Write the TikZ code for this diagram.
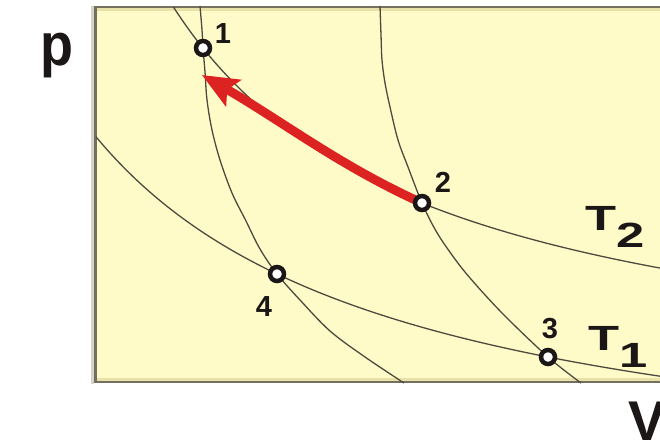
\documentclass[tikz,border=0pt]{standalone}
\usepackage{fontspec}
\setmainfont{Liberation Sans}
\usepackage{graphicx}
\usetikzlibrary{arrows.meta}
\definecolor{paper}{HTML}{FFFBC8}
\definecolor{khaki}{HTML}{E9E2A8}
\definecolor{frame}{HTML}{747060}
\definecolor{shadowgrey}{HTML}{D6D3CB}
\definecolor{curvegrey}{HTML}{4E4A40}
\definecolor{arrowred}{HTML}{DD2222}
\definecolor{ink}{HTML}{1A1716}
\tikzset{
  curve/.style={draw=curvegrey, line width=1.3pt},
  statept/.style={circle, draw=ink, fill=white, line width=4.5pt, minimum size=14pt, inner sep=0pt},
  ptlabel/.style={anchor=base, inner sep=0pt, text=ink, font=\fontsize{29}{30}\selectfont\bfseries},
  templabel/.style={anchor=base west, inner sep=0pt, text=ink, font=\fontsize{35}{36}\selectfont\bfseries},
  axislabel/.style={anchor=base west, inner sep=0pt, text=ink, font=\fontsize{60}{60}\selectfont\bfseries},
  processarrow/.style={draw=arrowred, line width=9pt, -{Stealth[length=36pt, width=30pt, inset=7pt]}}
}
\begin{document}
\begin{tikzpicture}[x=1pt, y=-1pt]
\useasboundingbox (0,0) rectangle (660,442);
\clip (0,0) rectangle (660,442);
\fill[white] (0,0) rectangle (660,442);
% frame
\fill[shadowgrey] (91,6) rectangle (94,384);
\fill[paper] (95,7) rectangle (662,382);
\fill[khaki] (97,8) rectangle (662,11);
\fill[khaki] (97,378) rectangle (662,381);
\draw[frame, line width=2pt] (662,7) -- (95.5,7);
\draw[frame, line width=3pt] (95.5,6) -- (95.5,383);
\draw[frame, line width=2.5pt] (94,382) -- (662,382);
% state points
\coordinate (p1) at (203,48);
\coordinate (p2) at (422,203);
\coordinate (p3) at (548,357);
\coordinate (p4) at (277,274);
\coordinate (tip) at (202,75);
% isotherms
\draw[curve] plot[domain=173.4:662, samples=120] (\x, {406.2-1028/((\x+84.1)/100)});
\draw[curve] plot[domain=96:662, samples=120] (\x, {506.3-1132.52/((\x+210.5)/100)});
% adiabats
\draw[curve] plot[smooth, tension=0.55] coordinates {(200,6) (202,30) (p1) (205,72) (207,100) (212,130) (220,160) (232,193) (246,221) (260,249) (p4) (300,300) (330,331) (365,357) (404,383)};
\draw[curve] plot[smooth, tension=0.55] coordinates {(380,6) (381,35) (382,60) (385,83) (390,107) (398,140) (408,167) (p2) (436,231) (452,255) (470,278) (503,314) (p3) (581,383)};
% process arrow 2 -> 1
\draw[processarrow] (p2) .. controls (340,166) and (282,121) .. (tip);
% nodes
\node[statept] (n1) at (p1) {};
\node[statept] (n2) at (p2) {};
\node[statept] (n3) at (p3) {};
\node[statept] (n4) at (p4) {};
\node[ptlabel] (l1) at (223,43) {1};
\node[ptlabel] (l2) at (443,192) {2};
\node[ptlabel] (l3) at (550,338) {3};
\node[ptlabel] (l4) at (264,316) {4};
\node[templabel] (t2) at (585,230) {\scalebox{1.45}[1]{T\raisebox{-17pt}{2}}};
\node[templabel] (t1) at (588,350) {\scalebox{1.45}[1]{T\raisebox{-17pt}{1}}};
\node[axislabel] (pl) at (40,65) {\scalebox{0.9}[1]{p}};
\node[axislabel, font=\fontsize{56}{56}\selectfont\bfseries] (vl) at (628,440) {V};
\end{tikzpicture}
\end{document}
